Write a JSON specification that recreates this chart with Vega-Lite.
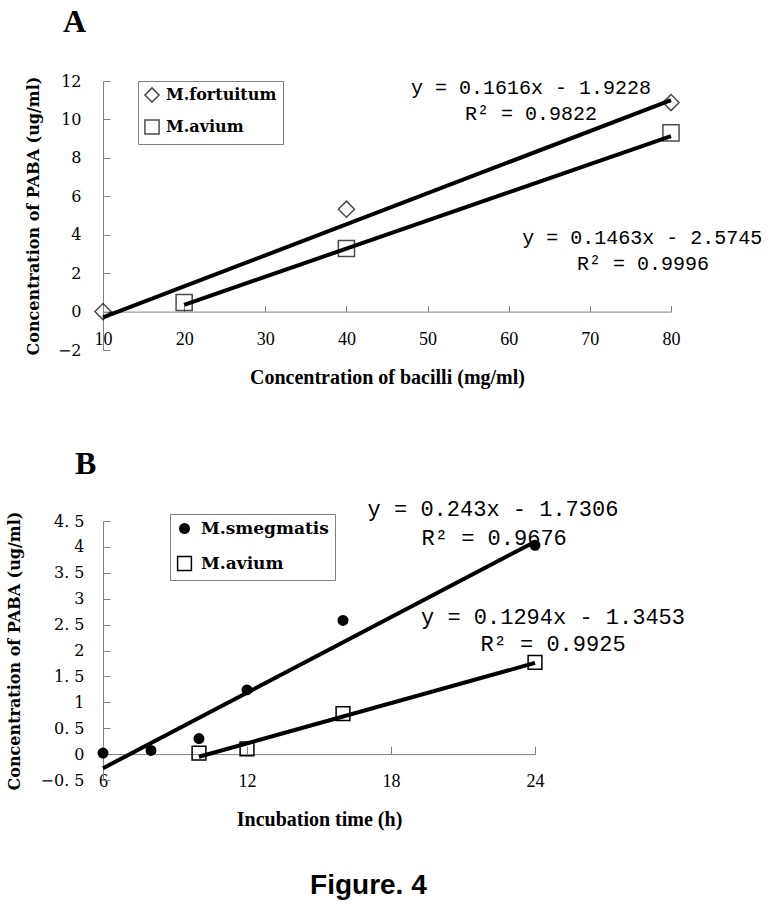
{
  "$schema": "https://vega.github.io/schema/vega-lite/v6.json",
  "background": "white",
  "padding": {"left": 6, "top": 5, "right": 0, "bottom": 5},
  "spacing": 60,
  "resolve": {
    "scale": {"x": "independent", "y": "independent", "shape": "independent", "size": "independent", "strokeWidth": "independent"},
    "legend": {"shape": "independent", "size": "independent", "strokeWidth": "independent"}
  },
  "config": {
    "view": {"stroke": null},
    "axis": {"grid": false, "domainColor": "#808080", "tickColor": "#808080", "labelColor": "black", "titleColor": "black", "labelOverlap": false, "labelFlush": false, "tickCount": 30},
    "legend": {"orient": "none", "title": null, "strokeColor": "#808080", "fillColor": "white", "labelFont": "DejaVu Serif", "labelFontWeight": "bold", "labelColor": "black", "symbolStrokeColor": "black", "symbolStrokeWidth": 1.5}
  },
  "title": {"text": "Figure. 4", "orient": "bottom", "font": "Liberation Sans", "fontSize": 28, "fontWeight": "bold", "color": "black", "offset": 43, "anchor": "middle", "dx": -16},
  "datasets": {
    "ptsA": [
      {"x": 10, "y": 0, "s": "M.fortuitum"},
      {"x": 40, "y": 5.33, "s": "M.fortuitum"},
      {"x": 80, "y": 10.88, "s": "M.fortuitum"},
      {"x": 20, "y": 0.47, "s": "M.avium"},
      {"x": 40, "y": 3.28, "s": "M.avium"},
      {"x": 80, "y": 9.3, "s": "M.avium"}
    ],
    "fitA": [
      {"x": 10, "y": -0.307, "s": "M.fortuitum"},
      {"x": 80, "y": 11.005, "s": "M.fortuitum"},
      {"x": 20, "y": 0.3515, "s": "M.avium"},
      {"x": 80, "y": 9.1295, "s": "M.avium"}
    ],
    "eqA": [
      {"x": 62.75, "y": 11.64, "t": "y = 0.1616x - 1.9228"},
      {"x": 62.75, "y": 10.29, "t": "R² = 0.9822"},
      {"x": 76.45, "y": 3.84, "t": "y = 0.1463x - 2.5745"},
      {"x": 76.55, "y": 2.49, "t": "R² = 0.9996"}
    ],
    "ptsB": [
      {"x": 6, "y": 0.02, "s": "M.smegmatis"},
      {"x": 8, "y": 0.07, "s": "M.smegmatis"},
      {"x": 10, "y": 0.3, "s": "M.smegmatis"},
      {"x": 12, "y": 1.24, "s": "M.smegmatis"},
      {"x": 16, "y": 2.58, "s": "M.smegmatis"},
      {"x": 24, "y": 4.03, "s": "M.smegmatis"},
      {"x": 10, "y": 0.02, "s": "M.avium"},
      {"x": 12, "y": 0.1, "s": "M.avium"},
      {"x": 16, "y": 0.78, "s": "M.avium"},
      {"x": 24, "y": 1.77, "s": "M.avium"}
    ],
    "fitB": [
      {"x": 6, "y": -0.2726, "s": "M.smegmatis"},
      {"x": 24, "y": 4.1014, "s": "M.smegmatis"},
      {"x": 10, "y": -0.0513, "s": "M.avium"},
      {"x": 24, "y": 1.7603, "s": "M.avium"}
    ],
    "eqB": [
      {"x": 22.25, "y": 4.725, "t": "y = 0.243x - 1.7306"},
      {"x": 22.3, "y": 4.18, "t": "R² = 0.9676"},
      {"x": 24.75, "y": 2.64, "t": "y = 0.1294x - 1.3453"},
      {"x": 24.75, "y": 2.13, "t": "R² = 0.9925"}
    ]
  },
  "vconcat": [
    {
      "width": 568,
      "height": 269,
      "title": {"text": "A", "anchor": "start", "frame": "group", "font": "Liberation Serif", "fontSize": 32, "fontWeight": "bold", "color": "black", "dx": -40, "offset": 34.5},
      "layer": [
        {
          "data": {"name": "fitA"},
          "mark": {"type": "line", "color": "black", "strokeWidth": 4},
          "encoding": {
            "x": {"field": "x", "type": "quantitative", "title": "Concentration of bacilli (mg/ml)",
              "scale": {"domain": [10, 80], "nice": false, "zero": false},
              "axis": {"values": [10, 20, 30, 40, 50, 60, 70, 80], "tickCount": 30, "format": "d", "labelOverlap": false, "offset": -38.4, "tickSize": -6, "labelPadding": 25.3, "labelFont": "Liberation Serif", "labelFontSize": 18, "titleFont": "Liberation Serif", "titleFontSize": 20, "titleFontWeight": "bold", "titlePadding": 19}},
            "y": {"field": "y", "type": "quantitative", "title": "Concentration of PABA (ug/ml)",
              "scale": {"domain": [-2, 12], "nice": false, "zero": false},
              "axis": {"values": [-2, 0, 2, 4, 6, 8, 10, 12], "tickCount": 30, "format": "d", "labelOverlap": false, "tickSize": -7, "labelPadding": 29, "labelFont": "DejaVu Serif", "labelFontSize": 16, "titleFont": "DejaVu Serif", "titleFontSize": 16, "titleFontWeight": "bold", "titlePadding": 16}},
            "detail": {"field": "s"}
          }
        },
        {
          "data": {"name": "ptsA"},
          "mark": {"type": "point", "filled": false, "color": "black", "strokeWidth": 1.5, "size": 260},
          "encoding": {
            "x": {"field": "x", "type": "quantitative", "title": "Concentration of bacilli (mg/ml)"},
            "y": {"field": "y", "type": "quantitative", "title": "Concentration of PABA (ug/ml)"},
            "shape": {"field": "s", "type": "nominal",
              "scale": {"domain": ["M.fortuitum", "M.avium"], "range": ["diamond", "square"]},
              "legend": {"legendX": 35, "legendY": 0, "padding": 6, "labelFontSize": 16, "rowPadding": 10, "symbolSize": 200, "labelOffset": 6}}
          }
        },
        {
          "data": {"name": "eqA"},
          "mark": {"type": "text", "font": "Liberation Mono", "fontSize": 20, "color": "black", "align": "center", "baseline": "middle"},
          "encoding": {
            "x": {"field": "x", "type": "quantitative", "title": "Concentration of bacilli (mg/ml)"},
            "y": {"field": "y", "type": "quantitative", "title": "Concentration of PABA (ug/ml)"},
            "text": {"field": "t"}
          }
        }
      ]
    },
    {
      "width": 432,
      "height": 259,
      "title": {"text": "B", "anchor": "start", "frame": "group", "font": "Liberation Serif", "fontSize": 32, "fontWeight": "bold", "color": "black", "dx": -28, "offset": 17},
      "layer": [
        {
          "data": {"name": "fitB"},
          "mark": {"type": "line", "color": "black", "strokeWidth": 4},
          "encoding": {
            "x": {"field": "x", "type": "quantitative", "title": "Incubation time (h)",
              "scale": {"domain": [6, 24], "nice": false, "zero": false},
              "axis": {"values": [6, 12, 18, 24], "tickCount": 30, "format": "d", "labelOverlap": false, "offset": -25.9, "tickSize": -8, "labelPadding": 26, "labelFont": "Liberation Serif", "labelFontSize": 18, "titleFont": "Liberation Serif", "titleFontSize": 20, "titleFontWeight": "bold", "titlePadding": 19}},
            "y": {"field": "y", "type": "quantitative", "title": "Concentration of PABA (ug/ml)",
              "scale": {"domain": [-0.5, 4.5], "nice": false, "zero": false},
              "axis": {"values": [-0.5, 0, 0.5, 1, 1.5, 2, 2.5, 3, 3.5, 4, 4.5], "tickCount": 30, "format": ".1~f", "labelExpr": "replace(datum.label, '.', '. ')", "labelOverlap": false, "tickSize": -7, "labelPadding": 26, "labelFont": "DejaVu Serif", "labelFontSize": 16, "titleFont": "DejaVu Serif", "titleFontSize": 16, "titleFontWeight": "bold", "titlePadding": 17.5}},
            "detail": {"field": "s"}
          }
        },
        {
          "data": {"name": "ptsB"},
          "mark": {"type": "point", "filled": false, "color": "black", "opacity": 1},
          "encoding": {
            "x": {"field": "x", "type": "quantitative", "title": "Incubation time (h)"},
            "y": {"field": "y", "type": "quantitative", "title": "Concentration of PABA (ug/ml)"},
            "shape": {"field": "s", "type": "nominal",
              "scale": {"domain": ["M.smegmatis", "M.avium"], "range": ["circle", "square"]},
              "legend": {"legendX": 67, "legendY": -7, "padding": 6, "labelFontSize": 17, "rowPadding": 10, "labelOffset": 8}},
            "size": {"field": "s", "type": "nominal",
              "scale": {"domain": ["M.smegmatis", "M.avium"], "range": [30, 190]},
              "legend": {"legendX": 67, "legendY": -7, "padding": 6, "labelFontSize": 17, "rowPadding": 10, "labelOffset": 8}},
            "strokeWidth": {"field": "s", "type": "nominal",
              "scale": {"domain": ["M.smegmatis", "M.avium"], "range": [5.5, 1.5]},
              "legend": {"legendX": 67, "legendY": -7, "padding": 6, "labelFontSize": 17, "rowPadding": 10, "labelOffset": 8}}
          }
        },
        {
          "data": {"name": "eqB"},
          "mark": {"type": "text", "font": "Liberation Mono", "fontSize": 22, "color": "black", "align": "center", "baseline": "middle"},
          "encoding": {
            "x": {"field": "x", "type": "quantitative", "title": "Incubation time (h)"},
            "y": {"field": "y", "type": "quantitative", "title": "Concentration of PABA (ug/ml)"},
            "text": {"field": "t"}
          }
        }
      ]
    }
  ]
}
